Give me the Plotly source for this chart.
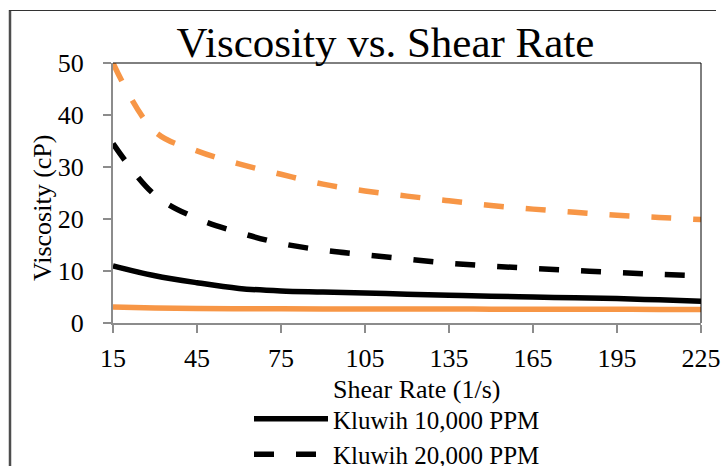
import plotly.graph_objects as go

shear_rate = [15, 30, 45, 60, 75, 90, 105, 120, 135, 150, 165, 180, 195, 210, 225]
kluwih_10000 = [11.0, 9.1, 7.75, 6.65, 6.15, 5.95, 5.75, 5.55, 5.35, 5.15, 5.0, 4.85, 4.7, 4.45, 4.2]
kluwih_20000 = [34.5, 24.6, 20.1, 17.4, 15.3, 14.0, 13.1, 12.3, 11.5, 10.95, 10.5, 10.1, 9.7, 9.35, 9.05]
orange_10000 = [3.1, 2.9, 2.8, 2.75, 2.72, 2.7, 2.7, 2.68, 2.68, 2.66, 2.65, 2.64, 2.63, 2.62, 2.6]
orange_20000 = [50.0, 36.8, 33.1, 30.6, 28.6, 26.7, 25.4, 24.4, 23.5, 22.6, 21.9, 21.3, 20.7, 20.3, 19.9]
x_ticks = [15, 45, 75, 105, 135, 165, 195, 225]
y_ticks = [0, 10, 20, 30, 40, 50]

FONT = "Liberation Serif"
ORANGE = "#F79646"
W, H = 726, 466
L, R, T, B = 113, 25, 63, 143
PW, PH = W - L - R, H - T - B

def px_x(p):
    return (p - L) / PW

def px_y(p):
    return (H - B - p) / PH

fig = go.Figure()
fig.add_trace(go.Scatter(x=shear_rate, y=orange_10000, mode="lines", name="Series 3",
                         line=dict(color=ORANGE, width=5.5, shape="spline"), showlegend=False))
fig.add_trace(go.Scatter(x=shear_rate, y=orange_20000, mode="lines", name="Series 4",
                         line=dict(color=ORANGE, width=5.5, shape="spline", dash="20px,22px"),
                         showlegend=False))
fig.add_trace(go.Scatter(x=shear_rate, y=kluwih_10000, mode="lines", name="Kluwih 10,000 PPM",
                         line=dict(color="black", width=5.5, shape="spline")))
fig.add_trace(go.Scatter(x=shear_rate, y=kluwih_20000, mode="lines", name="Kluwih 20,000 PPM",
                         line=dict(color="black", width=5.5, shape="spline", dash="20px,22px")))

axis_common = dict(showgrid=False, zeroline=False, showline=True, linecolor="#8c8c8c", linewidth=2,
                   ticks="outside", ticklen=8, tickwidth=2, tickcolor="#8c8c8c", automargin=False,
                   tickfont=dict(family=FONT, size=26, color="black"))

fig.update_xaxes(range=[15, 225], tickmode="array", tickvals=x_ticks,
                 ticktext=[str(v) for v in x_ticks], ticklabelstandoff=3, **axis_common)
fig.update_yaxes(range=[0, 50], tickmode="array", tickvals=y_ticks,
                 ticktext=[str(v) for v in y_ticks], ticklabelstandoff=14, **axis_common)

shapes = [
    dict(type="line", xref="paper", yref="paper", x0=0, x1=1, y0=1, y1=1,
         line=dict(color="black", width=1)),
    dict(type="line", xref="paper", yref="paper", x0=1, x1=1, y0=0, y1=1,
         line=dict(color="black", width=1)),
    dict(type="line", xref="paper", yref="paper", x0=px_x(10), x1=px_x(10), y0=px_y(10), y1=px_y(480),
         line=dict(color="#4d4d4d", width=2.5)),
    dict(type="line", xref="paper", yref="paper", x0=px_x(9), x1=px_x(716), y0=px_y(10.5), y1=px_y(10.5),
         line=dict(color="#333333", width=1.2)),
]

annotations = [
    dict(text="Viscosity (cP)", xref="paper", yref="paper", x=px_x(42), y=px_y(208),
         xanchor="center", yanchor="middle", textangle=-90, showarrow=False,
         font=dict(family=FONT, size=26, color="black")),
    dict(text="Shear Rate (1/s)", xref="paper", yref="paper", x=px_x(417), y=px_y(389),
         xanchor="center", yanchor="middle", showarrow=False,
         font=dict(family=FONT, size=26, color="black")),
]

fig.update_layout(
    width=W, height=H, autosize=False,
    font=dict(family=FONT, color="black"),
    margin=dict(l=L, r=R, t=T, b=B, pad=0),
    paper_bgcolor="white", plot_bgcolor="white",
    title=dict(text="Viscosity vs. Shear Rate", x=px_x(385.5), xref="paper", xanchor="center",
               y=1 - 42 / H, yref="container", yanchor="middle",
               font=dict(family=FONT, size=43, color="black")),
    legend=dict(x=px_x(249), y=1 - 396 / H, xref="paper", yref="container",
                xanchor="left", yanchor="top", orientation="v",
                font=dict(family=FONT, size=25, color="black"), itemwidth=74,
                bgcolor="rgba(0,0,0,0)", tracegroupgap=0),
    shapes=shapes, annotations=annotations,
)

fig.write_html("out.html")
